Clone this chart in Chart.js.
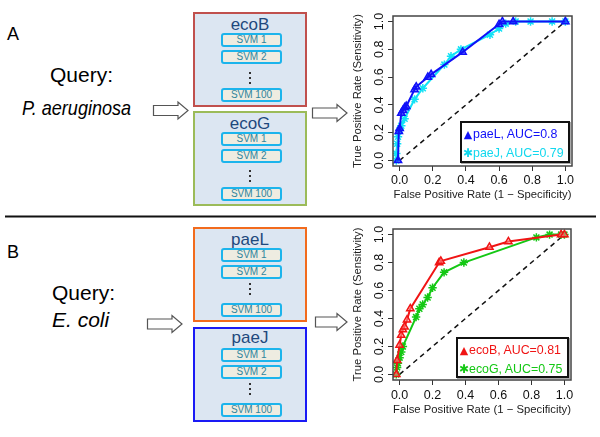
<!DOCTYPE html>
<html>
<head>
<meta charset="utf-8">
<script src="https://cdn.jsdelivr.net/npm/chart.js@4.4.1/dist/chart.umd.min.js"></script>
<style>
  html, body { margin: 0; padding: 0; background: #fff; }
  #wrap { position: relative; width: 600px; height: 437px; overflow: hidden; font-family: 'Liberation Sans', Arial, sans-serif; }
  .abs { position: absolute; }
  .big { font-size: 21px; line-height: 21px; color: #000; white-space: nowrap; }
  .panel { font-size: 18px; line-height: 18px; color: #000; }
  .box { position: absolute; box-sizing: border-box; border: 2px solid; background: #DCE6F2; }
  .boxlab { position: absolute; text-align: center; font-size: 17px; line-height: 17px; color: #1F497D; }
  .svm { position: absolute; box-sizing: border-box; border: 2px solid #1CB4EC; border-radius: 3px; background: #EEECE1;
         font-size: 10px; color: #31859C; text-align: center; }
  .dot { position: absolute; width: 2px; height: 2px; background: #333; }
  .legend { position: absolute; box-sizing: border-box; border: 2px solid #111; background: #fff; box-shadow: 1px 1px 0 #aaa;
            font-size: 12.4px; line-height: 18px; padding: 2px 0 0 1px; white-space: nowrap; }
  canvas { position: absolute; }
</style>
</head>
<body>
<div id="wrap">
  <svg class="abs" style="left:0;top:0" width="600" height="437" id="deco"></svg>
  <canvas id="chartA" width="260" height="210" style="left:340px;top:0px;width:260px;height:210px"></canvas>
  <canvas id="chartB" width="260" height="217" style="left:340px;top:220px;width:260px;height:217px"></canvas>
</div>
<script>
// ---------- DATA ----------
const tickVals   = [0, 0.2, 0.4, 0.6, 0.8, 1.0];
const tickLabels = ['0.0', '0.2', '0.4', '0.6', '0.8', '1.0'];

// Panel A (query P. aeruginosa)
const paeL_fpr = [-0.01, -0.005, 0.0, 0.01, 0.02, 0.03, 0.04, 0.09, 0.10, 0.17, 0.19, 0.38, 0.60, 0.62, 0.685, 1.0];
const paeL_tpr = [0.0, 0.21, 0.23, 0.34, 0.36, 0.38, 0.39, 0.51, 0.53, 0.60, 0.62, 0.78, 0.98, 1.0, 1.0, 1.0];
const paeJ_fpr = [-0.02, -0.02, -0.015, -0.01, 0.0, 0.01, 0.03, 0.09, 0.14, 0.27, 0.31, 0.37, 0.545, 0.60, 0.64, 0.70, 0.79, 0.92, 1.0];
const paeJ_tpr = [0.0, 0.05, 0.12, 0.17, 0.22, 0.25, 0.30, 0.44, 0.52, 0.69, 0.75, 0.80, 0.905, 0.95, 0.985, 1.0, 1.0, 1.0, 1.0];

// Panel B (query E. coli)
const ecoB_fpr = [-0.02, -0.015, 0.0, 0.01, 0.02, 0.03, 0.045, 0.065, 0.24, 0.25, 0.545, 0.66, 0.98, 1.0];
const ecoB_tpr = [0.0, 0.10, 0.21, 0.28, 0.32, 0.34, 0.39, 0.47, 0.80, 0.81, 0.91, 0.95, 1.0, 1.0];
const ecoG_fpr = [-0.02, -0.015, -0.01, 0.0, 0.01, 0.02, 0.10, 0.12, 0.14, 0.17, 0.20, 0.27, 0.39, 0.83, 0.91, 0.98, 1.0];
const ecoG_tpr = [0.0, 0.05, 0.08, 0.12, 0.16, 0.20, 0.41, 0.47, 0.50, 0.55, 0.62, 0.73, 0.80, 0.98, 1.0, 1.0, 1.0];

const diag = [0, 1];

const legendA = ['paeL, AUC=0.8', 'paeJ, AUC=0.79'];
const legendB = ['ecoB, AUC=0.81', 'ecoG, AUC=0.75'];

// ---------- DIAGRAM ----------
const wrap = document.getElementById('wrap');
function add(html) { wrap.insertAdjacentHTML('beforeend', html); }

add('<div class="abs panel" style="left:7px;top:25px">A</div>');
add('<div class="abs panel" style="left:7px;top:243px">B</div>');
add('<div class="abs big" style="left:50px;top:64px">Query:</div>');
add('<div class="abs big" style="left:22px;top:97px;font-style:italic;transform:scaleX(0.86);transform-origin:0 0">P. aeruginosa</div>');
add('<div class="abs big" style="left:52px;top:282px">Query:</div>');
add('<div class="abs big" style="left:52px;top:309px;font-style:italic">E. coli</div>');

function module(name, color, top, labTop, svmTops, dotTops) {
  add(`<div class="box" style="left:193px;top:${top}px;width:114px;height:95px;border-color:${color}"></div>`);
  add(`<div class="boxlab" style="left:193px;width:114px;top:${labTop}px">${name}</div>`);
  const names = ['SVM 1', 'SVM 2', 'SVM 100'];
  svmTops.forEach((t, i) => {
    add(`<div class="svm" style="left:221px;top:${t}px;width:61px;height:14px;line-height:10px">${names[i]}</div>`);
  });
  dotTops.forEach(t => add(`<div class="dot" style="left:249px;top:${t}px"></div>`));
}
module('ecoB', '#C0504D', 12, 15.5, [33, 50, 88], [72, 77, 82]);
module('ecoG', '#9BBB59', 111, 114.5, [132, 149, 187], [170, 175, 180]);
module('paeL', '#F26B1D', 227, 230.5, [248, 265, 303], [283, 288, 293]);
module('paeJ', '#1A1AF5', 327, 329, [348, 365, 403], [383, 388, 393]);

// separator line and arrows (svg)
const svg = document.getElementById('deco');
function arrow(x0, x1, c) {
  const hx = x1 - 10;
  const pts = [[x0, c - 5], [hx, c - 5], [hx, c - 8.5], [x1, c], [hx, c + 8.5], [hx, c + 5], [x0, c + 5]];
  return `<polygon points="${pts.map(p => p.join(',')).join(' ')}" fill="#fff" stroke="#555" stroke-width="1.2"/>`;
}
svg.innerHTML =
  '<line x1="5" y1="216.5" x2="596" y2="216.5" stroke="#111" stroke-width="2"/>' +
  arrow(153.5, 188, 110.5) + arrow(312.5, 347, 113) +
  arrow(147.5, 182, 324) + arrow(315.5, 347, 322);

// legends (real text)
function legend(left, top, w, h, items, colors, syms, symSize) {
  let inner = '';
  items.forEach((t, i) => {
    inner += `<div style="color:${colors[i]}"><span style="font-family:'DejaVu Sans';font-size:${symSize[i]}px;display:inline-block;width:10px;text-align:center">${syms[i]}</span>${t}</div>`;
  });
  add(`<div class="legend" style="left:${left}px;top:${top}px;width:${w}px;height:${h}px">${inner}</div>`);
}

// ---------- CHARTS ----------
const boxPlugin = {
  id: 'box',
  afterDraw(chart) {
    const { ctx, chartArea: a } = chart;
    ctx.save();
    ctx.strokeStyle = '#444';
    ctx.lineWidth = 1.5;
    ctx.strokeRect(a.left, a.top, a.right - a.left, a.bottom - a.top);
    ctx.restore();
  }
};

function pts(xs, ys) { return xs.map((x, i) => ({ x, y: ys[i] })); }

function makeChart(id, series, pad, xHeight, xTitlePadBottom, xTickPad) {
  const datasets = series.map(s => ({
    data: pts(s.x, s.y),
    borderColor: s.color,
    backgroundColor: s.fill,
    borderWidth: 2,
    pointStyle: s.style,
    pointRadius: 4.2,
    pointBorderWidth: 1.5,
    pointBorderColor: s.color,
    pointBackgroundColor: s.fill,
    showLine: true,
    tension: 0,
    order: 1
  }));
  datasets.push({
    data: pts(diag, diag), borderColor: '#111', borderWidth: 1.5, borderDash: [5, 4],
    pointRadius: 0, showLine: true, order: 2
  });
  const fontFam = "'Liberation Sans', Arial, sans-serif";
  return new Chart(document.getElementById(id), {
    type: 'scatter',
    data: { datasets },
    plugins: [boxPlugin],
    options: {
      responsive: false, animation: false, devicePixelRatio: 1,
      layout: { padding: pad },
      plugins: { legend: { display: false }, tooltip: { enabled: false } },
      scales: {
        x: {
          type: 'linear', min: -0.04, max: 1.04,
          afterBuildTicks: s => { s.ticks = tickVals.map(v => ({ value: v })); },
          afterFit: s => { s.height = xHeight; },
          ticks: { callback: (v, i) => tickLabels[i], font: { family: fontFam, size: 12.5 }, color: '#111',
                   padding: xTickPad, maxRotation: 0, minRotation: 0, autoSkip: false },
          grid: { drawOnChartArea: false, drawTicks: true, tickLength: 5, color: '#333', lineWidth: 1 },
          border: { display: false },
          title: { display: true, text: 'False Positive Rate (1 − Specificity)', color: '#222',
                   font: { family: fontFam, size: 11.3 }, padding: { top: 0, bottom: xTitlePadBottom } }
        },
        y: {
          type: 'linear', min: -0.04, max: 1.04,
          afterBuildTicks: s => { s.ticks = tickVals.map(v => ({ value: v })); },
          afterFit: s => { s.width = 53; },
          ticks: { callback: (v, i) => tickLabels[i], font: { family: fontFam, size: 12.5 }, color: '#111',
                   padding: 0, minRotation: 90, maxRotation: 90, crossAlign: 'center', autoSkip: false },
          grid: { drawOnChartArea: false, drawTicks: true, tickLength: 5, color: '#333', lineWidth: 1 },
          border: { display: false },
          title: { display: true, text: 'True Positive Rate (Sensitivity)', color: '#222',
                   font: { family: fontFam, size: 11.3 }, padding: { top: 11, bottom: 0 } }
        }
      }
    }
  });
}

makeChart('chartA', [
  { x: paeL_fpr, y: paeL_tpr, color: '#1010F8', fill: 'rgba(16,16,248,0.55)', style: 'triangle' },
  { x: paeJ_fpr, y: paeJ_tpr, color: '#12E2F6', fill: 'rgba(18,226,246,0.3)', style: 'star' }
], { top: 16, right: 28, left: 0, bottom: 0 }, 44, 8.2, 2);

makeChart('chartB', [
  { x: ecoB_fpr, y: ecoB_tpr, color: '#F01414', fill: 'rgba(255,160,160,0.5)', style: 'triangle' },
  { x: ecoG_fpr, y: ecoG_tpr, color: '#14C814', fill: 'rgba(20,200,20,0.3)', style: 'star' }
], { top: 9, right: 29, left: 0, bottom: 0 }, 57, 20, 3);

legend(460, 121, 110, 42, legendA, ['#1010F8', '#12D8EE'], ['▲', '✱'], [11, 12]);
legend(456, 337, 113, 41, legendB, ['#F01414', '#14C814'], ['▲', '✱'], [11, 12]);
</script>
</body>
</html>
